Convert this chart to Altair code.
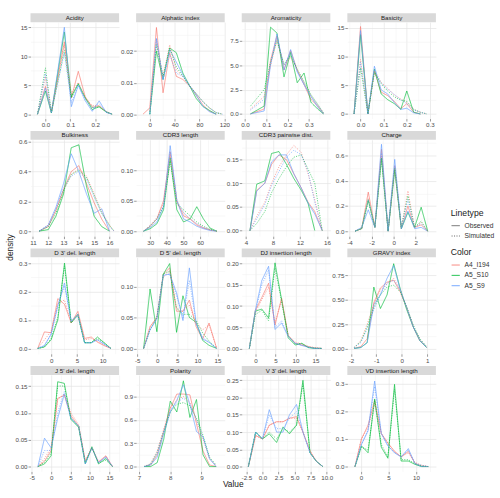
import json
import altair as alt
import pandas as pd

COLOR_LEVELS = ["A4_I194", "A5_S10", "A5_S9"]
COLOR_RANGE = ["#F8766D", "#00BA38", "#619CFF"]
LINETYPES = ["Observed", "Simulated"]
SERIES = [("oA4", "Observed", "A4_I194"), ("oS10", "Observed", "A5_S10"), ("oS9", "Observed", "A5_S9"),
          ("sA4", "Simulated", "A4_I194"), ("sS10", "Simulated", "A5_S10"), ("sS9", "Simulated", "A5_S9")]

acidity = dict(
    x=[-0.032, 0.0, 0.024, 0.076, 0.104, 0.132, 0.16, 0.188, 0.216, 0.244, 0.268],
    oA4=[0, 4.8, 0.3, 12.5, 2.8, 7.4, 3.0, 1.2, 1.4, 0.4, 0],
    oS10=[0, 4.0, 0.2, 14.2, 3.0, 5.3, 2.8, 0.8, 1.3, 0.4, 0],
    oS9=[0, 4.5, 0.2, 15.0, 1.3, 5.0, 2.3, 0.5, 2.3, 0.3, 0],
    sA4=[0, 6.5, 0.4, 12.0, 3.5, 5.5, 2.8, 1.5, 1.5, 0.5, 0],
    sS10=[0, 8.0, 0.3, 11.0, 2.8, 5.2, 2.8, 1.2, 1.2, 0.4, 0],
    sS9=[0, 7.0, 0.3, 10.6, 2.0, 5.0, 2.6, 1.0, 1.8, 0.4, 0])

alphatic = dict(
    x=[-11, 0, 10.7, 21.3, 32, 42.7, 53.3, 64, 74.7, 85.3, 96, 106.7, 117],
    oA4=[0, 0.002, 0.0275, 0.0068, 0.0195, 0.012, 0.011, 0.009, 0.006, 0.003, 0.001, 0, None],
    oS10=[None, 0, 0.020, 0.011, 0.021, 0.0195, 0.013, 0.009, 0.005, 0.0025, 0.0012, 0, None],
    oS9=[None, 0, 0.024, 0.011, 0.0205, 0.0165, 0.0125, 0.009, 0.006, 0.0025, 0.0008, 0, None],
    sA4=[None, 0.001, 0.023, 0.012, 0.022, 0.014, 0.012, 0.009, 0.0065, 0.004, 0.002, 0.0005, 0],
    sS10=[None, 0, 0.022, 0.012, 0.021, 0.015, 0.012, 0.009, 0.0065, 0.004, 0.002, 0.0005, 0],
    sS9=[None, 0, 0.024, 0.011, 0.019, 0.013, 0.012, 0.009, 0.0065, 0.004, 0.002, 0.0005, 0])

aromaticity = dict(
    x=[0.026, 0.09, 0.12, 0.15, 0.183, 0.214, 0.245, 0.277, 0.309, 0.341, 0.368],
    oA4=[0, 0.5, 5.5, 8.0, 4.5, 6.5, 4.5, 3.0, 1.5, 0.8, 0],
    oS10=[0, 0.8, 8.9, 8.3, 3.8, 6.3, 3.2, 4.2, 1.2, 0.5, 0],
    oS9=[0, 0.3, 5.0, 8.2, 4.5, 6.6, 4.3, 3.0, 1.8, 0.7, 0],
    sA4=[0.5, 1.8, 5.0, 7.6, 5.0, 5.8, 4.5, 3.2, 1.9, 0.9, 0.1],
    sS10=[0.8, 2.5, 5.3, 7.5, 5.1, 6.0, 4.6, 3.3, 2.0, 1.0, 0.1],
    sS9=[0.4, 1.5, 5.2, 7.8, 5.0, 6.2, 4.4, 3.1, 1.8, 0.9, 0.1])

basicity = dict(
    x=[-0.028, 0.0, 0.032, 0.06, 0.089, 0.117, 0.146, 0.174, 0.2, 0.23, 0.259, 0.287],
    oA4=[0, 15.2, 0, 7.5, 3.8, 3.2, 2.2, 0.9, 1.8, 0.3, 0, None],
    oS10=[0, 13.8, 0, 7.8, 3.5, 2.5, 1.8, 0.8, 4.0, 0.3, 0, None],
    oS9=[0, 14.5, 0, 8.3, 4.2, 3.5, 2.0, 0.8, 1.0, 0.2, 0, None],
    sA4=[0, 9.5, 0, 7.5, 5.5, 4.5, 3.3, 2.6, 2.0, 0.8, 0.3, 0],
    sS10=[0, 8.0, 0, 7.2, 5.3, 4.0, 3.0, 2.4, 2.2, 0.8, 0.3, 0],
    sS9=[0, 9.0, 0, 7.6, 5.4, 4.3, 3.4, 2.5, 1.8, 0.7, 0.3, 0])

bulkiness = dict(
    x=[11.4, 12.0, 12.5, 13.0, 13.5, 14.0, 14.5, 15.0, 15.5, 16.0, 16.3],
    oA4=[0, 0.03, 0.14, 0.28, 0.40, 0.44, 0.32, 0.19, 0.08, 0.0, None],
    oS10=[0, 0.01, 0.10, 0.25, 0.56, 0.58, 0.30, 0.10, 0.03, 0.0, None],
    oS9=[0, 0.04, 0.16, 0.32, 0.52, 0.40, 0.25, 0.12, 0.15, 0.0, None],
    sA4=[0, 0.04, 0.14, 0.28, 0.38, 0.42, 0.37, 0.25, 0.13, 0.04, 0],
    sS10=[0, 0.03, 0.12, 0.27, 0.38, 0.41, 0.36, 0.24, 0.12, 0.04, 0],
    sS9=[0, 0.04, 0.15, 0.29, 0.37, 0.40, 0.35, 0.23, 0.12, 0.03, 0])

cdr3_length = dict(
    x=[26, 30, 34, 38, 42, 46, 50, 54, 58, 62, 66, 70],
    oA4=[0, 0.008, 0.02, 0.05, 0.13, 0.05, 0.025, 0.02, 0.01, 0.005, 0.002, 0],
    oS10=[0, 0.004, 0.012, 0.035, 0.12, 0.035, 0.015, 0.02, 0.04, 0.02, 0.005, 0],
    oS9=[0, 0.006, 0.015, 0.04, 0.14, 0.05, 0.02, 0.015, 0.008, 0.004, 0.001, 0],
    sA4=[0, 0.01, 0.022, 0.045, 0.125, 0.045, 0.03, 0.02, 0.012, 0.006, 0.002, 0],
    sS10=[0, 0.008, 0.02, 0.04, 0.115, 0.045, 0.035, 0.025, 0.015, 0.008, 0.003, 0],
    sS9=[0, 0.009, 0.02, 0.042, 0.13, 0.05, 0.03, 0.02, 0.012, 0.006, 0.002, 0])

cdr3_pairwise = dict(
    x=[4.6, 5.6, 6.8, 7.8, 8.9, 10.0, 11.1, 12.2, 13.2, 14.2, 15.3],
    oA4=[0, 0.085, 0.10, 0.14, 0.16, 0.15, 0.12, 0.09, 0.06, 0.04, 0],
    oS10=[0, 0.098, 0.105, 0.163, 0.167, 0.14, 0.11, 0.085, 0.058, 0.0, None],
    oS9=[0, 0.083, 0.10, 0.145, 0.16, 0.16, 0.12, 0.09, 0.058, 0.035, 0],
    sA4=[0, 0.03, 0.06, 0.10, 0.135, 0.16, 0.18, 0.165, 0.12, 0.065, 0],
    sS10=[0, 0.015, 0.04, 0.08, 0.11, 0.135, 0.155, 0.16, 0.13, 0.10, 0],
    sS9=[0, 0.025, 0.055, 0.095, 0.125, 0.155, 0.17, 0.16, 0.125, 0.06, 0])

charge = dict(
    x=[-3.5, -2.9, -2.3, -1.7, -1.1, -0.5, 0.1, 0.7, 1.3, 1.9, 2.5, 3.1],
    oA4=[0, 0.02, 0.31, 0.03, 0.65, 0.0, 0.52, 0.02, 0.20, 0.03, 0.05, 0],
    oS10=[0, 0.02, 0.25, 0.03, 0.58, 0.0, 0.49, 0.02, 0.15, 0.03, 0.19, 0],
    oS9=[0, 0.03, 0.17, 0.03, 0.69, 0.0, 0.57, 0.02, 0.16, 0.02, 0.03, 0],
    sA4=[0, 0.02, 0.26, 0.03, 0.60, 0.0, 0.50, 0.03, 0.32, 0.03, 0.07, 0],
    sS10=[0, 0.02, 0.24, 0.03, 0.58, 0.0, 0.50, 0.03, 0.28, 0.03, 0.08, 0],
    sS9=[0, 0.02, 0.25, 0.03, 0.62, 0.0, 0.52, 0.03, 0.25, 0.03, 0.06, 0])

d3_del = dict(
    x=[-2.6, -1.3, 0.0, 1.3, 2.6, 3.9, 5.2, 6.5, 7.8, 9.0, 10.3, 11.6],
    oA4=[0, 0.058, 0.055, 0.175, 0.155, 0.09, 0.13, 0.035, 0.04, 0.022, 0.01, 0],
    oS10=[0, 0.005, 0.03, 0.10, 0.30, 0.09, 0.12, 0.02, 0.02, 0.04, 0.02, 0],
    oS9=[0, 0.01, 0.05, 0.15, 0.23, 0.095, 0.12, 0.02, 0.02, 0.03, 0.015, 0],
    sA4=[0, 0.03, 0.06, 0.16, 0.17, 0.09, 0.12, 0.03, 0.035, 0.025, 0.01, 0],
    sS10=[0, 0.005, 0.035, 0.11, 0.29, 0.09, 0.115, 0.02, 0.02, 0.035, 0.02, 0],
    sS9=[0, 0.01, 0.05, 0.15, 0.22, 0.095, 0.115, 0.02, 0.02, 0.03, 0.015, 0])

d5_del = dict(
    x=[-3.4, -1.8, -0.1, 1.5, 3.1, 4.8, 6.4, 8.0, 9.7, 11.3, 12.9, 14.8],
    oA4=[0, 0.035, 0.05, 0.12, 0.13, 0.06, 0.06, 0.078, 0.035, 0.015, 0.041, 0],
    oS10=[0, 0.096, 0.027, 0.12, 0.137, 0.026, 0.085, 0.05, 0.042, 0.013, 0.005, 0],
    oS9=[0, 0.03, 0.048, 0.118, 0.12, 0.09, 0.045, 0.13, 0.04, 0.015, 0.01, 0],
    sA4=[0, 0.035, 0.05, 0.115, 0.125, 0.065, 0.06, 0.07, 0.04, 0.03, 0.038, 0],
    sS10=[0, 0.03, 0.05, 0.12, 0.125, 0.065, 0.055, 0.055, 0.045, 0.025, 0.012, 0],
    sS9=[0, 0.03, 0.048, 0.118, 0.12, 0.085, 0.05, 0.11, 0.04, 0.018, 0.01, 0])

dj_ins = dict(
    x=[-1.5, 0.0, 1.6, 3.3, 4.9, 6.55, 8.2, 9.95, 11.6, 13.2, 14.8, 16.6],
    oA4=[0, 0.09, 0.12, 0.154, 0.055, 0.119, 0.03, 0.012, 0.008, 0.004, 0.001, 0],
    oS10=[0, 0.088, 0.093, 0.072, 0.202, 0.115, 0.025, 0.008, 0.012, 0.002, 0, 0],
    oS9=[0, 0.09, 0.16, 0.194, 0.045, 0.06, 0.028, 0.012, 0.007, 0.003, 0, 0],
    sA4=[0, 0.085, 0.115, 0.145, 0.06, 0.115, 0.03, 0.015, 0.01, 0.005, 0.002, 0],
    sS10=[0, 0.08, 0.09, 0.065, 0.19, 0.11, 0.03, 0.01, 0.012, 0.003, 0.001, 0],
    sS9=[0, 0.085, 0.15, 0.185, 0.05, 0.065, 0.03, 0.012, 0.008, 0.003, 0.001, 0])

gravy = dict(
    x=[-1.87, -1.61, -1.36, -1.1, -0.84, -0.58, -0.32, -0.06, 0.19, 0.45, 0.71, 0.97],
    oA4=[0, 0.02, 0.10, 0.47, 0.62, 0.68, 0.70, 0.58, 0.42, 0.22, 0.08, 0.01],
    oS10=[0, 0.01, 0.06, 0.63, 0.41, 0.55, 0.87, 0.61, 0.40, 0.22, 0.08, 0.01],
    oS9=[0, 0.01, 0.06, 0.45, 0.55, 0.72, 0.85, 0.60, 0.42, 0.22, 0.08, 0.01],
    sA4=[0.01, 0.08, 0.25, 0.45, 0.60, 0.66, 0.72, 0.60, 0.42, 0.23, 0.09, 0.02],
    sS10=[0.01, 0.07, 0.22, 0.42, 0.55, 0.63, 0.65, 0.58, 0.43, 0.24, 0.10, 0.02],
    sS9=[0.01, 0.06, 0.20, 0.40, 0.56, 0.67, 0.70, 0.60, 0.42, 0.23, 0.09, 0.02])

j5_del = dict(
    x=[-3.4, -1.7, 0.0, 1.7, 3.4, 5.1, 7.1, 8.8, 10.5, 12.2, 14.1, 15.8],
    oA4=[0, 0.01, 0.03, 0.127, 0.133, 0.095, 0.075, 0.01, 0.035, 0.008, 0.02, 0],
    oS10=[0, 0.005, 0.02, 0.158, 0.155, 0.088, 0.073, 0.005, 0.037, 0.005, 0.015, 0],
    oS9=[0, 0.053, 0.035, 0.09, 0.135, 0.09, 0.075, 0.005, 0.035, 0.007, 0.018, 0],
    sA4=[0, 0.015, 0.035, 0.125, 0.135, 0.10, 0.078, 0.012, 0.035, 0.01, 0.02, 0],
    sS10=[0, 0.008, 0.025, 0.15, 0.15, 0.09, 0.075, 0.007, 0.035, 0.007, 0.012, 0],
    sS9=[0, 0.03, 0.03, 0.10, 0.14, 0.09, 0.075, 0.007, 0.035, 0.008, 0.018, 0])

polarity = dict(
    x=[7.16, 7.37, 7.58, 7.79, 8.0, 8.21, 8.42, 8.63, 8.84, 9.05, 9.26, 9.47],
    oA4=[0, 0.02, 0.15, 0.45, 0.75, 0.93, 0.93, 0.92, 0.55, 0.20, 0.02, 0],
    oS10=[0, 0.0, 0.05, 0.35, 0.84, 0.70, 1.10, 0.63, 0.86, 0.15, 0.0, 0],
    oS9=[0, 0.02, 0.12, 0.42, 0.70, 0.85, 1.05, 0.80, 0.45, 0.38, 0.10, 0],
    sA4=[0, 0.04, 0.20, 0.48, 0.75, 0.85, 0.90, 0.82, 0.60, 0.35, 0.10, 0.01],
    sS10=[0, 0.03, 0.18, 0.45, 0.70, 0.80, 0.82, 0.78, 0.62, 0.40, 0.12, 0.02],
    sS9=[0, 0.03, 0.18, 0.46, 0.72, 0.82, 0.88, 0.80, 0.60, 0.38, 0.10, 0.01])

v3_del = dict(
    x=[-2.2, -1.06, 0.0, 1.06, 2.2, 3.2, 4.2, 5.3, 6.3, 7.4, 8.4, 9.4],
    oA4=[0, 0.09, 0.08, 0.12, 0.13, 0.13, 0.14, 0.145, 0.10, 0.045, 0.015, 0],
    oS10=[0, 0.10, 0.08, 0.095, 0.07, 0.115, 0.095, 0.12, 0.25, 0.04, 0.015, 0],
    oS9=[0, 0.10, 0.08, 0.165, 0.10, 0.10, 0.15, 0.18, 0.10, 0.04, 0.015, 0],
    sA4=[0, 0.09, 0.08, 0.12, 0.13, 0.13, 0.14, 0.14, 0.10, 0.045, 0.015, 0],
    sS10=[0, 0.10, 0.08, 0.10, 0.08, 0.11, 0.10, 0.12, 0.24, 0.04, 0.015, 0],
    sS9=[0, 0.10, 0.08, 0.15, 0.11, 0.11, 0.14, 0.16, 0.10, 0.04, 0.015, 0])

vd_ins = dict(
    x=[-1.07, 0.1, 1.3, 2.5, 3.7, 4.9, 6.1, 7.3, 8.6, 9.8, 11.0, 12.2],
    oA4=[0, 0.10, 0.15, 0.24, 0.12, 0.085, 0.055, 0.035, 0.055, 0.012, 0.002, 0],
    oS10=[0, 0.075, 0.05, 0.245, 0.07, 0.03, 0.298, 0.02, 0.02, 0.008, 0, 0],
    oS9=[0, 0.08, 0.13, 0.31, 0.12, 0.075, 0.05, 0.035, 0.065, 0.01, 0.0, 0],
    sA4=[0, 0.10, 0.14, 0.23, 0.12, 0.085, 0.055, 0.035, 0.05, 0.015, 0.005, 0],
    sS10=[0, 0.07, 0.06, 0.24, 0.08, 0.035, 0.28, 0.025, 0.025, 0.01, 0.002, 0],
    sS9=[0, 0.08, 0.13, 0.29, 0.12, 0.075, 0.05, 0.035, 0.06, 0.012, 0.005, 0])

PANELS = [
    ("Acidity", acidity), ("Alphatic index", alphatic), ("Aromaticity", aromaticity), ("Basicity", basicity),
    ("Bulkiness", bulkiness), ("CDR3 length", cdr3_length), ("CDR3 pairwise dist.", cdr3_pairwise), ("Charge", charge),
    ("D 3' del. length", d3_del), ("D 5' del. length", d5_del), ("DJ insertion length", dj_ins), ("GRAVY index", gravy),
    ("J 5' del. length", j5_del), ("Polarity", polarity), ("V 3' del. length", v3_del), ("VD insertion length", vd_ins),
]

# per-panel axis settings: x domain, x ticks, x format, y domain, y ticks, y format
AXES = [
    ([-0.06, 0.296], [0, 0.1, 0.2], ".1f", [-0.76, 15.9], [0, 5, 10, 15], "d"),
    ([-22, 120.5], [0, 40, 80, 120], "d", [-0.00139, 0.0292], [0, 0.01, 0.02], ".2f"),
    ([-0.015, 0.40], [0, 0.1, 0.2, 0.3], ".1f", [-0.48, 9.42], [0, 2.5, 5, 7.5], ".1f"),
    ([-0.057, 0.326], [0, 0.1, 0.2, 0.3], ".1f", [-0.8, 15.97], [0, 5, 10, 15], "d"),
    ([10.84, 16.63], [11, 12, 13, 14, 15, 16], "d", [-0.034, 0.614], [0, 0.2, 0.4, 0.6], ".1f"),
    ([21.5, 74.8], [30, 40, 50, 60], "d", [-0.0083, 0.1497], [0, 0.05, 0.10], ".2f"),
    ([3.38, 16.5], [4, 8, 12, 16], "d", [-0.012, 0.192], [0, 0.05, 0.10, 0.15], ".2f"),
    ([-4.2, 3.84], [-4, -2, 0, 2], "d", [-0.04, 0.726], [0, 0.2, 0.4, 0.6], ".1f"),
    ([-4.0, 13.2], [0, 5, 10], "d", [-0.019, 0.32], [0, 0.1, 0.2, 0.3], ".1f"),
    ([-5.27, 16.8], [-5, 0, 5, 10, 15], "d", [-0.0087, 0.147], [0, 0.05, 0.10], ".2f"),
    ([-3.4, 18.7], [0, 5, 10, 15], "d", [-0.0127, 0.215], [0, 0.05, 0.10, 0.15, 0.20], ".2f"),
    ([-2.14, 1.34], [-2, -1, 0, 1], "d", [-0.055, 0.935], [0, 0.25, 0.5, 0.75], ".2f"),
    ([-5.3, 17.5], [-5, 0, 5, 10, 15], "d", [-0.009, 0.1706], [0, 0.05, 0.10, 0.15], ".2f"),
    ([6.905, 9.745], [7, 8, 9], "d", [-0.0625, 1.175], [0, 0.3, 0.6, 0.9], ".1f"),
    ([-3.23, 10.56], [-2.5, 0, 2.5, 5, 7.5, 10], ".1f", [-0.014, 0.2655], [0, 0.05, 0.10, 0.15, 0.20, 0.25], ".2f"),
    ([-2.45, 13.6], [0, 5, 10], "d", [-0.0177, 0.332], [0, 0.1, 0.2, 0.3], ".1f"),
]

W, H = 90, 98
STRIP_H = 9


def make_axis(ticks, dom, fmt, orient):
    step = ticks[1] - ticks[0]
    minors = [round(t + step / 2, 6) for t in [ticks[0] - step] + ticks]
    minors = [m for m in minors if dom[0] <= m <= dom[1]]
    vals = sorted(ticks + minors)
    test = "indexof(%s, datum.value) >= 0" % json.dumps(minors)
    return alt.Axis(
        values=vals, format=fmt, orient=orient, title=None,
        labelExpr="(%s) ? '' : replace(datum.label, '\u2212', '-')" % test,
        gridColor={"condition": {"test": test, "value": "#F1F1F1"}, "value": "#E3E3E3"},
        gridWidth={"condition": {"test": test, "value": 0.5}, "value": 0.7},
        tickOpacity={"condition": {"test": test, "value": 0}, "value": 1},
        domain=False, tickColor="#555555", tickSize=2.5, tickWidth=0.6,
        labelFontSize=6.3, labelColor="#4D4D4D", labelPadding=1,
        labelOverlap=False, labelFlush=False, labelBound=False)


def make_panel(idx):
    name, d = PANELS[idx]
    xd, xt, xf, yd, yt, yf = AXES[idx]
    rows = []
    for key, lt, col in SERIES:
        for xv, yv in zip(d["x"], d[key]):
            if yv is not None:
                rows.append({"Value": xv, "density": yv, "Linetype": lt, "Color": col})
    df = pd.DataFrame(rows)
    lines = alt.Chart(df).mark_line(strokeWidth=0.9, opacity=0.78, clip=True).encode(
        x=alt.X("Value:Q", scale=alt.Scale(domain=xd, nice=False, zero=False), axis=make_axis(xt, xd, xf, "bottom")),
        y=alt.Y("density:Q", scale=alt.Scale(domain=yd, nice=False, zero=False), axis=make_axis(yt, yd, yf, "left")),
        color=alt.Color("Color:N", scale=alt.Scale(domain=COLOR_LEVELS, range=COLOR_RANGE),
                        legend=alt.Legend(title="Color", orient="none", legendX=427, legendY=230,
                                          symbolType="stroke", symbolStrokeWidth=1, symbolSize=70,
                                          symbolOpacity=0.85, labelFontSize=6.8, titleFontSize=8.8,
                                          titleFontWeight="normal", labelColor="#333333",
                                          titleColor="#1A1A1A", rowPadding=1.5, titlePadding=3)),
        strokeDash=alt.StrokeDash("Linetype:N", scale=alt.Scale(domain=LINETYPES, range=[[1, 0], [1, 1.5]]),
                                  legend=alt.Legend(title="Linetype", orient="none", legendX=427, legendY=190,
                                                    symbolType="stroke", symbolStrokeColor="#333333",
                                                    symbolStrokeWidth=1, symbolSize=70, labelFontSize=6.8,
                                                    titleFontSize=8.8, titleFontWeight="normal",
                                                    labelColor="#333333", titleColor="#1A1A1A",
                                                    rowPadding=1.5, titlePadding=3)),
    )
    lab = pd.DataFrame({"t": [name]})
    strip = alt.Chart(lab).mark_rect(color="#D9D9D9").encode(
        x=alt.value(0), x2=alt.value(W), y=alt.value(-STRIP_H), y2=alt.value(0))
    stext = alt.Chart(lab).mark_text(fontSize=6.3, color="#1A1A1A", baseline="middle").encode(
        x=alt.value(W / 2), y=alt.value(-STRIP_H / 2), text="t:N")
    layers = [strip, lines, stext]
    if idx == 8:
        layers.append(alt.Chart(pd.DataFrame({"t": ["density"]})).mark_text(
            fontSize=8.5, angle=270, color="#1A1A1A", baseline="middle").encode(
            x=alt.value(-21), y=alt.value(-10), text="t:N"))
    if idx == 12:
        layers.append(alt.Chart(pd.DataFrame({"t": ["Value"]})).mark_text(
            fontSize=8.5, color="#1A1A1A", baseline="middle").encode(
            x=alt.value(206), y=alt.value(111), text="t:N"))
    return alt.layer(*layers).properties(width=W, height=H)


chart = alt.concat(*[make_panel(i) for i in range(16)], columns=4,
                   spacing={"row": 21.5, "column": 17.3}).resolve_scale(
    x="independent", y="independent", color="shared", strokeDash="shared"
).properties(
    bounds="flush", padding={"left": 6, "top": 9.5, "right": 5, "bottom": 5}
).configure(font="Liberation Sans").configure_view(stroke=None)

chart.save("out.html", embed_options={"renderer": "svg", "actions": False})
